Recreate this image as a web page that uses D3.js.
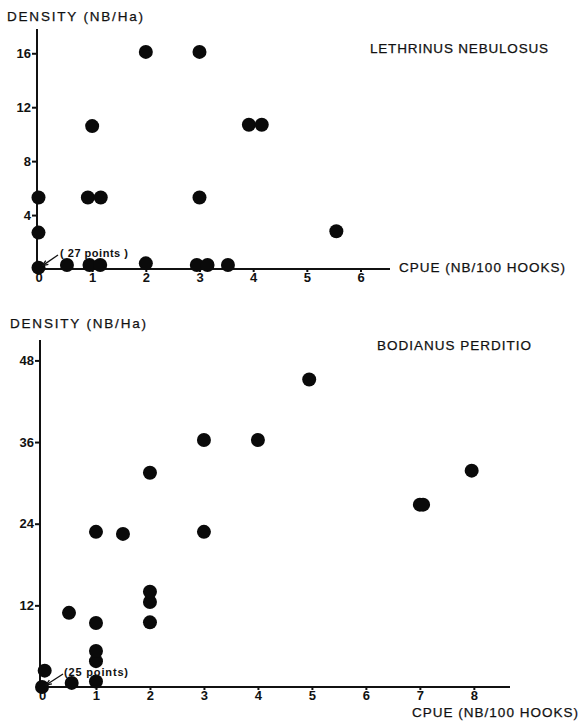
<!DOCTYPE html>
<html>
<head>
<meta charset="utf-8">
<script src="https://cdn.jsdelivr.net/npm/d3@7"></script>
<style>
body { margin: 0; background: #fff; }
svg text { font-family: "Liberation Sans", Arial, sans-serif; fill: #111; }
.axis path, .axis line { stroke: #111; stroke-width: 2; }
.axis text { font-size: 13px; font-weight: bold; fill: #111; }
.lbl { font-size: 13.5px; stroke: #111; stroke-width: 0.25; }
.note { font-size: 11px; font-weight: bold; }
</style>
</head>
<body>
<svg id="myGraph" width="580" height="721"></svg>
<script>
// Lethrinus nebulosus : CPUE vs density
var lethX = [0, 0, 0, 0.53, 0.95, 1.15, 0.92, 1.16, 1.0, 2.0, 2.0, 2.95, 3.15, 3.53, 3.0, 3.0, 3.92, 4.16, 5.55]
var lethY = [0.1, 2.7, 5.3, 0.3, 0.3, 0.3, 5.3, 5.3, 10.6, 0.42, 16.1, 0.3, 0.3, 0.3, 5.3, 16.1, 10.7, 10.7, 2.8]

// Bodianus perditio
var bodX = [0, 0.05, 0.55, 1.0, 1.0, 1.0, 1.0, 0.5, 1.0, 1.5, 2.0, 2.0, 2.0, 2.0, 3.0, 3.0, 4.0, 4.95, 7.0, 7.06, 7.96]
var bodY = [0, 2.4, 0.6, 0.8, 3.8, 5.3, 9.4, 10.9, 22.8, 22.5, 9.5, 12.5, 14.0, 31.5, 22.8, 36.3, 36.3, 45.2, 26.8, 26.8, 31.8]

var topXTicks = [0, 1, 2, 3, 4, 5, 6]
var topYTicks = [4, 8, 12, 16]
var botXTicks = [0, 1, 2, 3, 4, 5, 6, 7, 8]
var botYTicks = [12, 24, 36, 48]

var svg = d3.select("#myGraph")

function label(x, y, len, txt, cls) {
	svg.append("text").attr("class", cls)
		.attr("x", x).attr("y", y)
		.attr("textLength", len).attr("lengthAdjust", "spacing")
		.text(txt)
}

function panel(p) {
	var xScale = d3.scaleLinear().domain(p.xDomain).range(p.xRange)
	var yScale = d3.scaleLinear().domain(p.yDomain).range(p.yRange)

	// y axis
	svg.append("g")
		.attr("class", "axis")
		.attr("transform", "translate(" + p.axisX + ",0)")
		.call(d3.axisLeft(yScale).tickValues(p.yTicks).tickSize(5).tickSizeOuter(0).tickPadding(1))
		.select(".domain").attr("d", "M0," + yScale(0) + "V" + p.yRange[1])

	// x axis
	var gx = svg.append("g")
		.attr("class", "axis")
		.attr("transform", "translate(0," + yScale(0) + ")")
		.call(d3.axisBottom(xScale).tickValues(p.xTicks).tickFormat(d3.format("d"))
			.tickSize(3).tickSizeOuter(0).tickPadding(1))
	gx.select(".domain").attr("d", "M" + p.axisX + ",0H" + p.xRange[1])
	gx.selectAll(".tick text").attr("dy", "0.71em").attr("font-size", "14px")

	// points
	svg.append("g").selectAll("circle")
		.data(p.xs)
		.enter()
		.append("circle")
		.attr("cx", function(d) { return xScale(d) })
		.attr("cy", function(d, i) { return yScale(p.ys[i]) })
		.attr("r", 7)
		.attr("fill", "#0a0a0a")

	// labels
	label(p.yLabel[0], p.yLabel[1], 136, "DENSITY (NB/Ha)", "lbl")
	label(p.xLabel[0], p.xLabel[1], 166, "CPUE (NB/100 HOOKS)", "lbl")
	label(p.title[0], p.title[1], p.title[2], p.name, "lbl")

	// note + arrow
	var n = p.note
	label(n.x, n.y, n.len, n.text, "note")
	var x0 = xScale(0), y0 = yScale(p.ys[0])
	var ax = n.ax, ay = n.ay
	var tx = x0 + 4, ty = y0 - 2
	svg.append("line")
		.attr("x1", ax).attr("y1", ay).attr("x2", tx).attr("y2", ty)
		.attr("stroke", "#111").attr("stroke-width", 1.3)
	var ang = Math.atan2(ty - ay, tx - ax)
	var hl = 6
	svg.append("path")
		.attr("d", "M" + tx + "," + ty +
			"L" + (tx - hl * Math.cos(ang - 0.4)) + "," + (ty - hl * Math.sin(ang - 0.4)) +
			"M" + tx + "," + ty +
			"L" + (tx - hl * Math.cos(ang + 0.4)) + "," + (ty - hl * Math.sin(ang + 0.4)))
		.attr("stroke", "#111").attr("stroke-width", 1.3).attr("fill", "none")
}

panel({
	xs: lethX, ys: lethY,
	xDomain: [0, 6.55], xRange: [38.5, 390],
	yDomain: [0, 17.8], yRange: [269, 29],
	axisX: 37,
	xTicks: topXTicks, yTicks: topYTicks,
	yLabel: [7, 21], xLabel: [399, 272], title: [370, 53, 178],
	name: "LETHRINUS NEBULOSUS",
	note: { text: "( 27 points )", x: 60, y: 257, len: 68, ax: 58, ay: 255 }
})

panel({
	xs: bodX, ys: bodY,
	xDomain: [0, 8.67], xRange: [42, 510],
	yDomain: [0, 51], yRange: [687, 340],
	axisX: 40,
	xTicks: botXTicks, yTicks: botYTicks,
	yLabel: [10, 328], xLabel: [412, 717], title: [377, 350, 154],
	name: "BODIANUS PERDITIO",
	note: { text: "(25 points)", x: 64, y: 676, len: 64, ax: 63, ay: 674 }
})
</script>
</body>
</html>
